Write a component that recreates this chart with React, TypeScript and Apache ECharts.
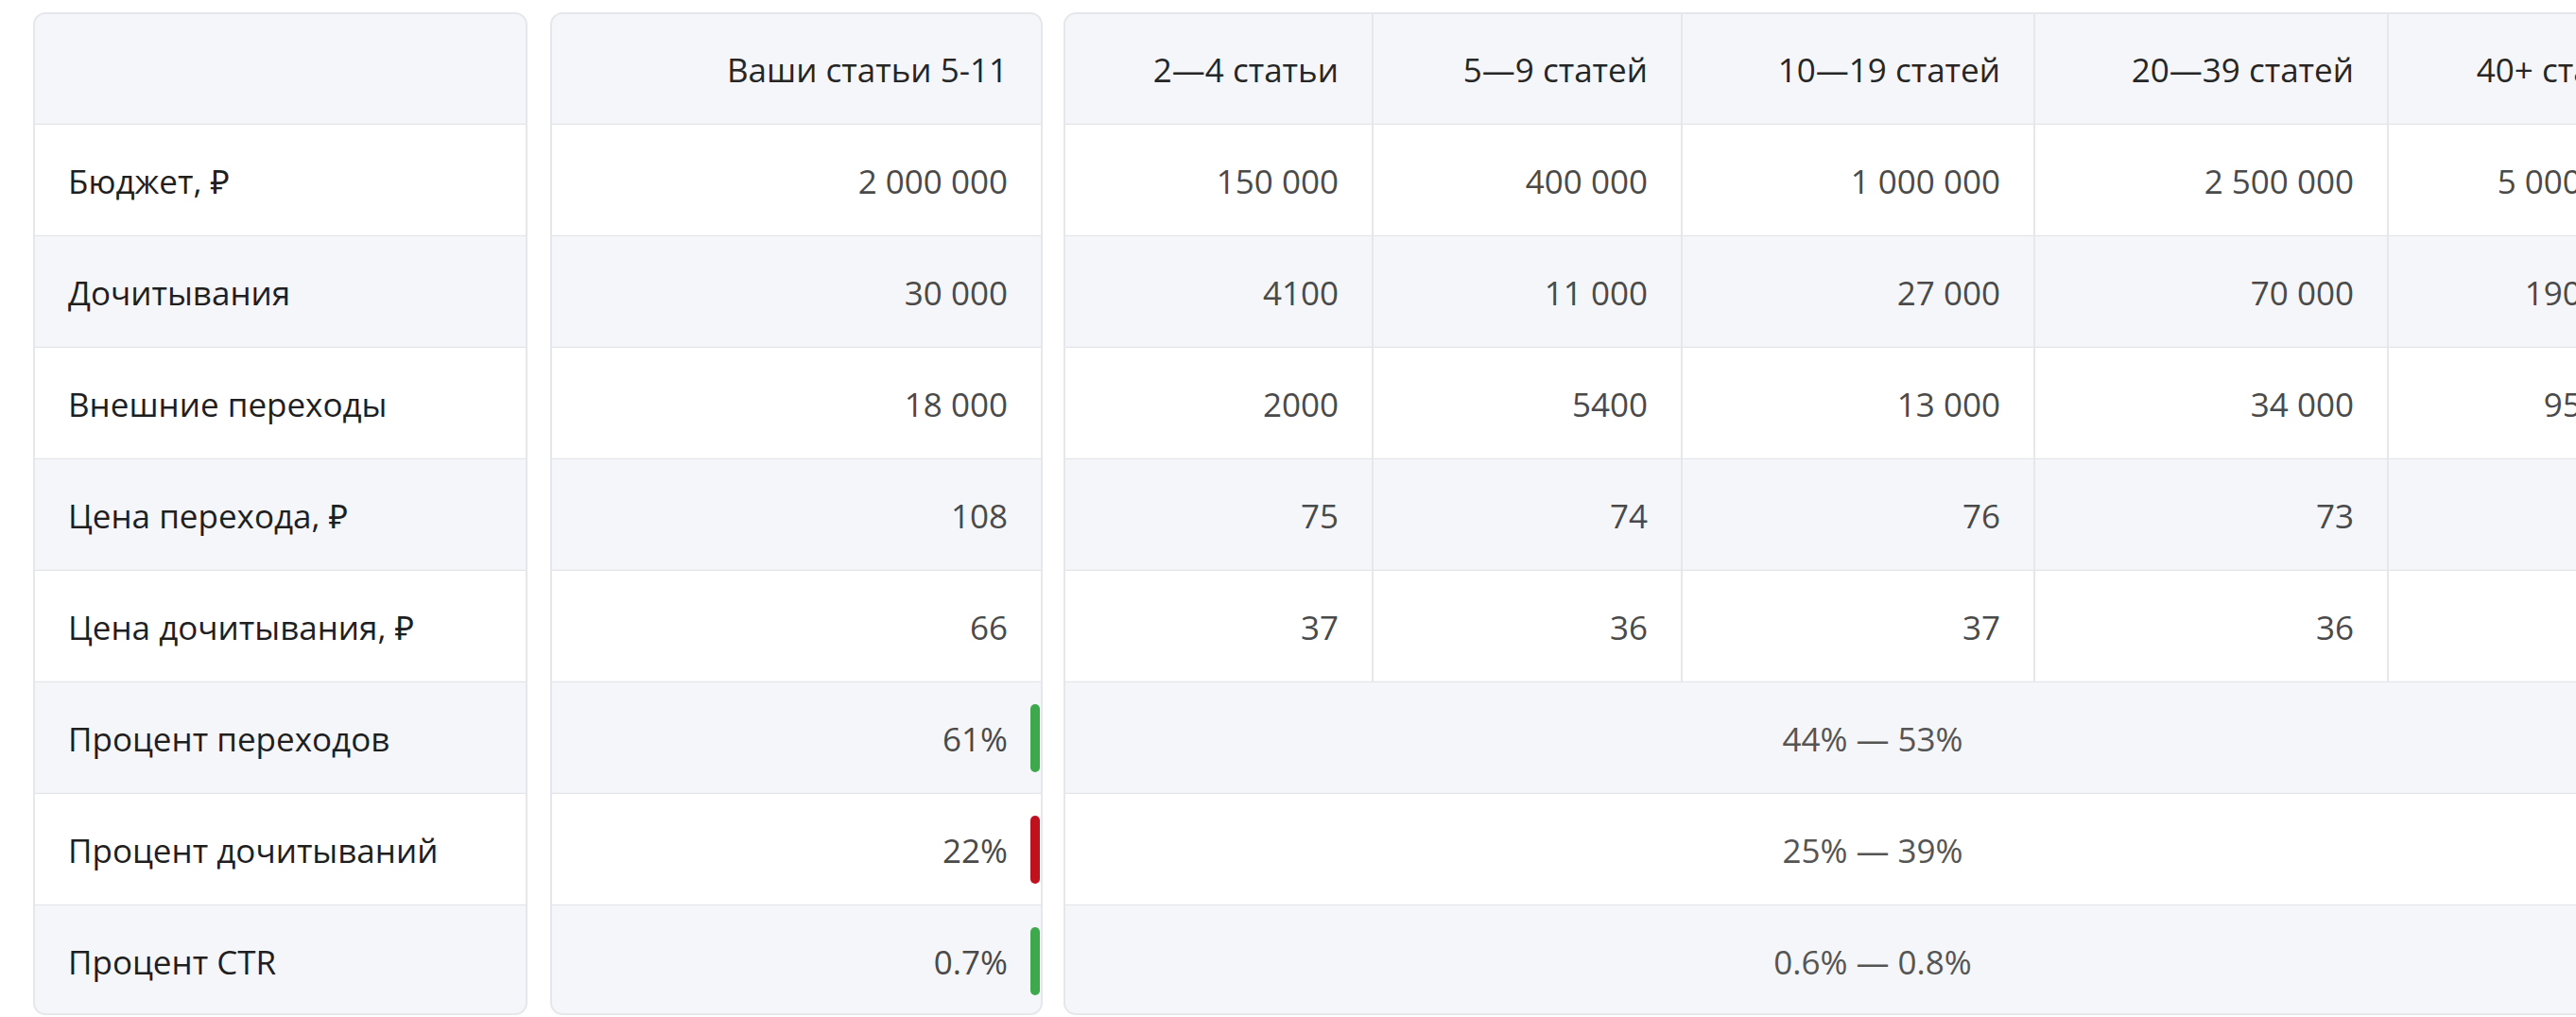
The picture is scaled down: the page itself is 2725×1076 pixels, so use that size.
import React, { useEffect, useRef } from "react";
import * as echarts from "echarts";

// ---------- data ----------
const rowLabels = [
  "Бюджет, ₽",
  "Дочитывания",
  "Внешние переходы",
  "Цена перехода, ₽",
  "Цена дочитывания, ₽",
  "Процент переходов",
  "Процент дочитываний",
  "Процент CTR",
];
const yourHeader = "Ваши статьи 5-11";
const yourValues = ["2 000 000", "30 000", "18 000", "108", "66", "61%", "22%", "0.7%"];
const yourStatus = ["", "", "", "", "", "good", "bad", "good"];

const groupHeaders = ["2—4 статьи", "5—9 статей", "10—19 статей", "20—39 статей", "40+ статей"];
const groupBudget = [150000, 400000, 1000000, 2500000, 5000000];
const groupReads = [4100, 11000, 27000, 70000, 190000];
const groupClicks = [2000, 5400, 13000, 34000, 95000];
const groupClickPrice = [75, 74, 76, 73, 53];
const groupReadPrice = [37, 36, 37, 36, 26];
const rangeRows = ["44% — 53%", "25% — 39%", "0.6% — 0.8%"];

// ---------- layout / style ----------
const W = 2725;
const H = 1076;
const TOP = 14;
const ROW_H = 119;
const PANEL_BOTTOM = 1073;
const RADIUS = 12;
const PAD = 36;
const PANELS = [
  { x0: 36, x1: 557 },
  { x0: 583, x1: 1102 },
  { x0: 1126, x1: 2836 },
];
const GROUP_EDGES = [1126, 1452, 1779, 2152, 2526, 2836];
const FONT = "'Open Sans', 'Noto Sans', sans-serif";
const FS = 35;
const GRAY = "#f5f6f9";
const WHITE = "#ffffff";
const LINE = "#e3e5e9";
const BORDER = "#e6e7eb";
const STATUS_COLORS: Record<string, string> = { good: "#3ea84c", bad: "#bf121e" };

function fmt(n: number): string {
  if (n < 10000) return String(n);
  return String(n).replace(/\B(?=(\d{3})+(?!\d))/g, " ");
}

const groupRows: number[][] = [groupBudget, groupReads, groupClicks, groupClickPrice, groupReadPrice];
const rowCats = ["", ...rowLabels];

export default function App() {
  const ref = useRef<HTMLDivElement>(null);

  useEffect(() => {
    if (!ref.current) return;
    document.body.style.margin = "0";
    const chart = echarts.init(ref.current, undefined, { renderer: "svg" });

    const text = (x: number, y: number, t: string, align: string, fill: string, weight: any = "normal") => ({
      type: "text",
      style: {
        x,
        y,
        text: t,
        align,
        verticalAlign: "middle",
        fill,
        fontSize: FS,
        fontFamily: FONT,
        fontWeight: weight,
      },
    });

    const renderRow = (params: any, api: any) => {
      const i = api.value(1) as number;
      const c = api.coord([0, i]);
      const h = api.size([0, 1])[1];
      const cy = c[1];
      const top = cy - h / 2;
      const last = i === rowCats.length - 1;
      const bottom = last ? PANEL_BOTTOM : cy + h / 2;
      const X = (x: number) => api.coord([x, i])[0];
      const children: any[] = [];
      const fill = i % 2 === 0 ? GRAY : WHITE;

      PANELS.forEach((p) => {
        const r = i === 0 ? [RADIUS, RADIUS, 0, 0] : last ? [0, 0, RADIUS, RADIUS] : 0;
        children.push({
          type: "rect",
          shape: { x: X(p.x0), y: top, width: X(p.x1) - X(p.x0), height: bottom - top, r },
          style: { fill },
        });
        if (!last) {
          children.push({
            type: "line",
            shape: { x1: X(p.x0), y1: bottom, x2: X(p.x1), y2: bottom },
            style: { stroke: LINE, lineWidth: 2.5 },
          });
        }
      });

      // panel 3 column separators (header + numeric rows)
      if (i <= groupRows.length) {
        for (let k = 1; k < GROUP_EDGES.length - 1; k++) {
          children.push({
            type: "line",
            shape: { x1: X(GROUP_EDGES[k]), y1: top, x2: X(GROUP_EDGES[k]), y2: bottom },
            style: { stroke: BORDER, lineWidth: 2 },
          });
        }
      }

      if (i === 0) {
        children.push(text(X(PANELS[1].x1 - PAD), cy, yourHeader, "right", "#262626", 500));
        groupHeaders.forEach((g, k) => {
          children.push(text(X(GROUP_EDGES[k + 1] - PAD), cy, g, "right", "#262626", 500));
        });
      } else {
        const r = i - 1;
        children.push(text(X(PANELS[0].x0 + PAD), cy, rowLabels[r], "left", "#1f1f1f"));
        children.push(text(X(PANELS[1].x1 - PAD), cy, yourValues[r], "right", "#4a4a4a"));
        if (r < groupRows.length) {
          groupRows[r].forEach((v, k) => {
            children.push(text(X(GROUP_EDGES[k + 1] - PAD), cy, fmt(v), "right", "#4a4a4a"));
          });
        } else {
          const mid = (X(PANELS[2].x0) + X(PANELS[2].x1)) / 2;
          children.push(text(mid, cy, rangeRows[r - groupRows.length], "center", "#555555"));
        }
        const st = yourStatus[r];
        if (st) {
          children.push({
            type: "rect",
            shape: { x: X(PANELS[1].x1 - 12), y: cy - 36, width: 10, height: 72, r: 5 },
            style: { fill: STATUS_COLORS[st] },
          });
        }
      }
      return { type: "group", children };
    };

    const renderBorders = (params: any, api: any) => {
      const c = api.coord([0, 0]);
      const h = api.size([0, 1])[1];
      const top = c[1] - h / 2;
      const X = (x: number) => api.coord([x, 0])[0];
      return {
        type: "group",
        children: PANELS.map((p) => ({
          type: "rect",
          shape: { x: X(p.x0), y: top, width: X(p.x1) - X(p.x0), height: PANEL_BOTTOM - top, r: RADIUS },
          style: { fill: "none", stroke: BORDER, lineWidth: 2 },
        })),
      };
    };

    chart.setOption({
      animation: false,
      backgroundColor: "#ffffff",
      grid: { left: 0, top: TOP, width: W, height: ROW_H * rowCats.length },
      xAxis: { type: "value", min: 0, max: W, show: false },
      yAxis: { type: "category", data: rowCats, inverse: true, show: false },
      series: [
        {
          type: "custom",
          clip: false,
          renderItem: renderRow,
          data: rowCats.map((_, i) => [0, i]),
          silent: true,
        },
        {
          type: "custom",
          clip: false,
          renderItem: renderBorders,
          data: [[0, 0]],
          silent: true,
          z: 5,
        },
      ],
    });

    return () => chart.dispose();
  }, []);

  return (
    <div
      ref={ref}
      style={{ position: "absolute", left: 0, top: 0, width: W, height: H, background: "#fff" }}
    />
  );
}
